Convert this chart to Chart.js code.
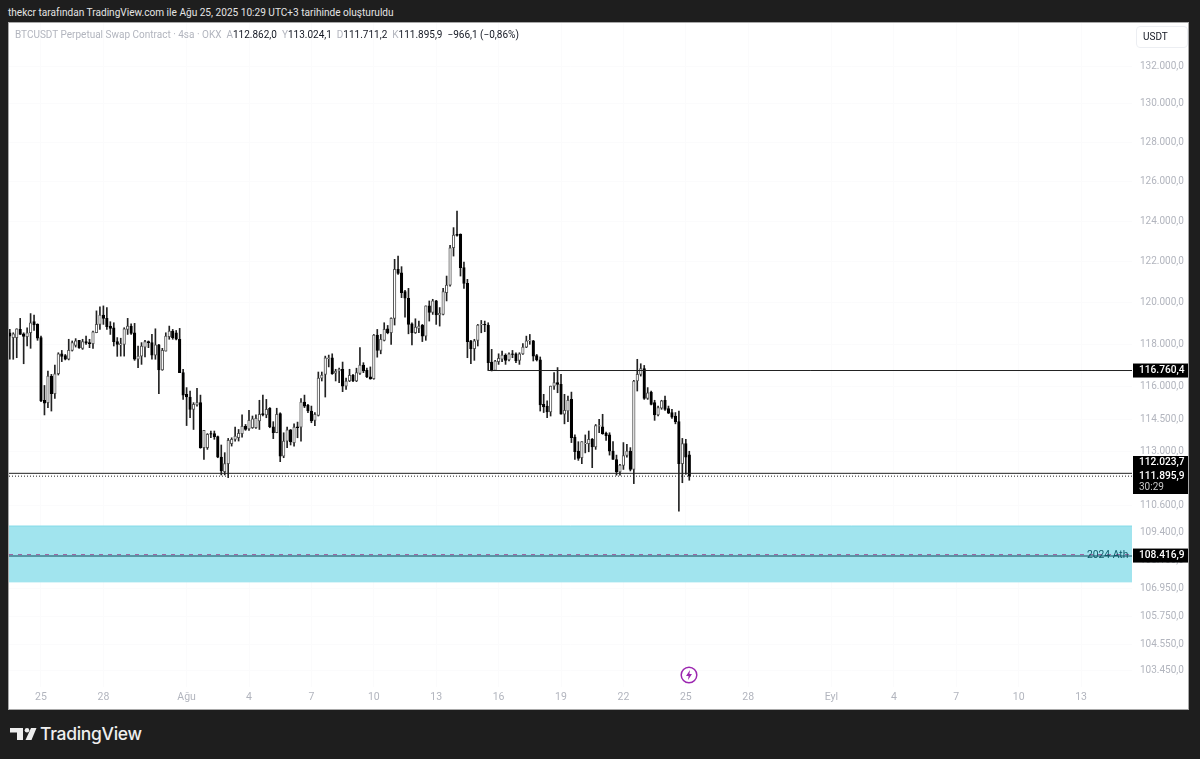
<!DOCTYPE html>
<html lang="tr">
<head>
<meta charset="utf-8">
<title>BTCUSDT</title>
<script src="https://cdn.jsdelivr.net/npm/chart.js@4/dist/chart.umd.js"></script>
<style>
  html, body { margin: 0; padding: 0; background: #1e1e1e; width: 1200px; height: 759px; overflow: hidden; }
  body { font-family: Roboto, sans-serif; position: relative; }
  .credit { position: absolute; left: 8px; top: 5px; color: #e4e4e4; font-size: 10.1px; line-height: 15px; white-space: nowrap; }
  #panel { position: absolute; left: 9px; top: 23px; width: 1179px; height: 686px; background: #fff; outline: 1px solid #a8a8a8; }
  #chart { position: absolute; left: 0; top: 0; }
  .legend { position: absolute; left: 6px; top: 4px; font-size: 10px; line-height: 15px; color: #131722; white-space: nowrap; }
  .legend span { color: #b2b5be; }
  .unit { position: absolute; left: 1127px; top: 3px; height: 20px; border: 1px solid #eceef2; border-radius: 4px; font-size: 10px; line-height: 20px; color: #131722; padding-left: 6px; width: 44px; }
  .bolt { position: absolute; left: 671px; top: 643px; }
  .logo { position: absolute; left: 9px; top: 723px; }
  .brand { position: absolute; left: 40px; top: 721px; color: #eee; font: 500 17.5px/26px Inter, sans-serif; letter-spacing: -0.3px; }
</style>
</head>
<body>
<div class="credit">thekcr tarafından TradingView.com ile Ağu 25, 2025 10:29 UTC+3 tarihinde oluşturuldu</div>
<div id="panel">
  <canvas id="chart" width="1179" height="686"></canvas>
  <div class="legend"><span>BTCUSDT Perpetual Swap Contract · 4sa · OKX</span>&nbsp; <span>A</span>112.862,0&nbsp; <span>Y</span>113.024,1&nbsp; <span>D</span>111.711,2&nbsp; <span>K</span>111.895,9&nbsp; −966,1 (−0,86%)</div>
  <div class="unit">USDT</div>
  <svg class="bolt" width="18" height="18" viewBox="0 0 18 18"><circle cx="9" cy="9" r="7.8" fill="#fff" stroke="#9c27b0" stroke-width="1.5"/><path d="M10 4 6 10h2.6L8 14l4-6H9.4z" fill="#9c27b0"/></svg>
</div>
<svg class="logo" width="28" height="20" viewBox="0 0 28 20"><path d="M1 5h13v12H8V9.5H1z" fill="#eee"/><circle cx="18" cy="7.2" r="2.3" fill="#eee"/><path d="M22 5h5.5l-5 12H16.500z" fill="#eee"/></svg>
<div class="brand">TradingView</div>

<script>
// 4h candles, oldest first
const opens = [118550,118320,118320,118710,118500,118360,118550,119080,118950,118320,
  115370,115260,116500,115680,116610,117550,117460,117290,117710,117950,
  118190,117810,118130,118080,118030,118550,118950,119400,119240,118870,
  118790,118130,117970,118000,118710,118870,118550,117290,117440,117870,
  118130,118080,117490,117970,116790,117680,118360,118630,118550,118240,
  116660,115645,115520,114950,115150,115260,113190,113190,113830,113830,
  113690,112760,112100,112460,113370,113570,113640,113830,114170,114050,
  114100,114100,114410,114750,114690,115000,114140,113870,114750,112800,
  113490,114000,113420,114140,114130,115290,115130,114870,114440,114670,
  116400,116580,117320,117365,116640,116740,116820,116030,116270,116530,
  116270,116630,117020,116770,116460,116380,118440,117710,118190,118740,
  118550,119240,121620,121450,120530,120210,118980,118550,118760,118920,
  118390,119840,119520,120080,119400,119430,120480,120850,122680,123340,
  123340,121700,120930,118160,117790,118190,118920,118950,118920,117160,
  116770,117180,117290,117490,117260,117550,117550,117240,117550,117870,
  118160,118160,117470,117260,115180,115100,114830,116030,116190,116110,
  114720,114870,115410,113670,113030,112730,113370,113370,113570,113220,
  114170,114140,113840,113770,113030,112650,112090,112380,112830,113030,
  112200,116270,116580,116850,115460,115750,115260,114690,115000,115370,
  114980,114800,114640,114380,112460,113370,112862];
const highs = [118710,118550,118740,119240,118550,118790,119470,119400,118980,118390,
  116060,116740,116580,117020,117600,117710,117520,118240,118160,118270,
  118190,118240,118390,118240,118630,119600,119790,119840,119760,119080,
  119030,118320,118290,118790,119240,118980,119000,117920,118080,118190,
  118160,118470,118740,118000,117810,118550,118870,118710,118660,118760,
  116820,115960,115800,115260,115930,115610,113980,113830,113950,113950,
  113720,113310,112960,113610,113640,114130,114020,114690,114250,114900,
  114640,114690,115370,115610,115410,115030,114380,115000,114790,113870,
  114130,114020,114280,114360,115450,115610,115180,115100,114800,116690,
  116690,117440,117490,117550,116820,116870,117160,116400,116820,116580,
  116870,117840,117130,116870,116930,118470,118710,118470,119030,118900,
  119270,122110,122270,121750,120590,120690,119030,119220,119110,118950,
  119840,120080,120160,120110,119760,120690,121290,122800,123680,124510,
  123370,121980,121130,118190,118240,118950,119140,119110,119030,117760,
  117240,117550,117680,117550,117600,117710,117600,117600,118030,118390,
  118470,118190,117520,117400,115645,115340,116030,116660,116900,116580,
  115645,115570,115750,113770,113460,113460,113770,113950,113610,114250,
  114490,114720,113900,113870,113460,112850,112430,113420,113340,113190,
  116300,117290,117080,117000,115960,115800,115370,115100,115370,115570,
  115100,114950,114800,114870,113610,113570,113024];
const lows = [117290,117290,117365,118470,117080,117920,117810,118660,118190,115300,
  114690,115030,114870,115460,116550,117180,117260,117260,117680,117870,
  117810,117760,118000,117840,117810,118550,118710,118950,118710,118470,
  117920,117430,117440,117440,118470,118470,117240,116900,117050,117400,
  117840,117290,117290,115680,116770,117680,118240,118240,118210,116660,
  115410,114200,114560,114020,115100,113160,112650,113110,113640,113570,
  112730,111950,111950,111830,113260,113490,113490,113670,113980,113980,
  114070,114070,114020,114640,114560,114100,113600,113870,112550,112730,
  113190,113310,113260,113640,113490,115030,114800,114330,114200,114640,
  116270,115520,116930,116580,116270,116190,115770,115880,116240,116240,
  116240,116580,116660,116430,116350,116350,117390,117550,118160,118500,
  118000,118920,121370,120240,119300,118500,117970,118520,118550,118130,
  118190,119110,119430,118950,118870,119400,120080,120800,122270,123260,
  121290,120690,117365,117080,117240,117920,118550,118600,116760,116740,
  116760,117050,117180,117050,117210,117365,117130,117050,117520,117840,
  118000,117210,117210,114870,114800,114560,114640,115880,115720,114720,
  114280,114380,113420,112650,112610,112460,112950,113000,112280,113110,
  113870,113800,113520,112850,112650,111940,111940,112200,112760,112130,
  111560,115800,116500,115410,115410,115150,114440,114640,114950,114900,
  114750,114530,114280,110330,111600,111980,111711];
const closes = [118390,118500,118740,118470,118380,118550,119030,118920,118290,115340,
  115230,116500,115680,116610,117550,117430,117290,117710,118080,118160,
  117840,118130,118060,118030,118600,118950,119400,119240,118840,118760,
  118130,118000,118030,118740,118870,118520,117290,117440,117920,118130,
  118080,117490,117970,116790,117710,118390,118630,118320,118240,116660,
  115610,115520,114950,115180,115260,113190,113980,113800,113800,113690,
  112760,112130,112460,113520,113570,113720,113840,114170,114020,114440,
  114510,114530,114720,114690,114950,114140,113870,114720,112800,113490,
  114000,113450,114130,114100,115290,115100,114870,114410,114720,116400,
  116550,117365,117365,116610,116740,116820,116030,116270,116530,116270,
  116660,117020,116740,116460,116370,118440,117710,118240,118710,118550,
  119240,121620,121420,120480,120210,118950,118550,118820,118870,118390,
  119840,119520,120080,119400,119480,120530,120850,122680,123310,123290,
  121700,120930,118130,117790,118160,118920,118950,118920,117130,116770,
  117210,117330,117490,117240,117550,117520,117210,117550,117870,118160,
  118190,117440,117260,115150,115060,114830,116030,116190,116110,114720,
  114900,115370,113640,113000,112700,113460,113400,113570,113220,114200,
  114200,113830,113740,113030,112650,112090,112400,112830,113030,112200,
  116270,116580,116850,115460,115720,115180,114690,115030,115340,114950,
  114770,114590,114380,112460,113370,112760,111895.9];

// x axis is counted in days from 25 Jul
const tickDays = [0, 3, 7, 10, 13, 16, 19, 22, 25, 28, 31, 34, 38, 41, 44, 47, 50];
const tickLabels = ['25', '28', 'Ağu', '4', '7', '10', '13', '16', '19', '22', '25', '28', 'Eyl', '4', '7', '10', '13'];
const priceTicks = [132000, 130000, 128000, 126000, 124000, 122000, 120000, 118000, 116000, 114500, 113000, 110600, 109400, 108150, 106950, 105750, 104550, 103450];

const firstCandleDay = -1.5;
const candlesPerDay = 6;
const xMin = -1.538, xMax = 52.45;
const yMin = 102784, yMax = 134307;

const resistance = 116760.4;
const resistanceStartDay = 21.5;
const support = 112023.7;
const lastPrice = 111895.9;
const ath2024 = 108416.9;
const athBase = 108350;
const zoneTop = 109670, zoneBottom = 107230;

const fmtPrice = v => v.toLocaleString('tr-TR', { minimumFractionDigits: 1, maximumFractionDigits: 1 });
const candleDays = opens.map((_, i) => firstCandleDay + i / candlesPerDay);
const isDown = closes.map((c, i) => c < opens[i]);
const hline = (y, from = xMin, to = xMax) => [{ x: from, y }, { x: to, y }];

const lineBase = { type: 'line', pointRadius: 0, borderWidth: 1, fill: false, tension: 0 };

// chart area has to fill the panel, no room kept for half tick labels
const noLabelMargin = s => { s.paddingTop = s.paddingBottom = s.paddingLeft = s.paddingRight = 0; };

// ── PRICE TAGS on the right axis ──
const priceTags = {
  id: 'priceTags',
  afterDatasetsDraw(chart) {
    const { ctx, scales: { y } } = chart;
    ctx.save();
    ctx.textBaseline = 'middle';

    // name of the ATH level, sits over its line
    const athY = y.getPixelForValue(ath2024);
    ctx.font = '10.3px Roboto';
    ctx.fillStyle = '#0e5a68';
    ctx.textAlign = 'left';
    ctx.fillText('2024 Ath', 1078, athY + 1);

    const tag = (top, h) => { ctx.fillStyle = '#000'; ctx.fillRect(1124, top, 55, h); };
    ctx.font = '500 10.2px Roboto';

    const r = y.getPixelForValue(resistance);
    tag(r - 7, 14);
    ctx.fillStyle = '#fff';
    ctx.fillText(fmtPrice(resistance), 1130, r);

    tag(433, 38);
    ctx.fillStyle = '#fff';
    ctx.fillText(fmtPrice(support), 1130, 439);
    ctx.fillText(fmtPrice(lastPrice), 1130, 453);
    ctx.font = '10px Roboto';
    ctx.fillStyle = '#c8c8c8';
    ctx.fillText('30:29', 1130, 464);

    ctx.font = '500 10.2px Roboto';
    tag(athY - 6, 14);
    ctx.fillStyle = '#fff';
    ctx.fillText(fmtPrice(ath2024), 1130, athY + 1);
    ctx.restore();
  }
};

new Chart(document.getElementById('chart'), {
  type: 'bar',
  data: {
    datasets: [
      { ...lineBase, order: 10, data: hline(zoneTop), borderColor: '#84dbe8', backgroundColor: '#a1e4ee', fill: '+1' },
      { ...lineBase, order: 11, data: hline(zoneBottom), borderColor: '#a1e4ee' },
      { order: 3, data: candleDays.map((x, i) => ({ x, y: [lows[i], highs[i]] })), backgroundColor: '#222', barThickness: 1, grouped: false },
      { order: 2, data: candleDays.map((x, i) => ({ x, y: [opens[i], closes[i]] })),
        backgroundColor: isDown.map(d => d ? '#000' : '#fff'),
        borderColor: isDown.map(d => d ? '#000' : '#555'),
        borderWidth: 1, borderSkipped: false, barThickness: 2.6, grouped: false },
      { ...lineBase, order: 1, data: hline(resistance, resistanceStartDay), borderColor: '#222' },
      { ...lineBase, order: 1, data: hline(support), borderColor: '#222' },
      { ...lineBase, order: 1, data: hline(lastPrice), borderColor: '#222', borderDash: [1, 2] },
      { ...lineBase, order: 1, data: hline(athBase), borderColor: '#3f7d8b', borderWidth: 1.5 },
      { ...lineBase, order: 0, data: hline(ath2024), borderColor: '#a0609f', borderDash: [4, 5] }
    ]
  },
  options: {
    responsive: false,
    animation: false,
    layout: { padding: 0 },
    plugins: { legend: { display: false }, tooltip: { enabled: false } },
    scales: {
      x: {
        type: 'linear', min: xMin, max: xMax, offset: false,
        grid: { offset: false, color: '#fbfbfc', drawTicks: false },
        border: { display: false },
        afterBuildTicks: s => { s.ticks = tickDays.map(value => ({ value })); },
        afterFit: s => { s.height = 22; noLabelMargin(s); },
        ticks: {
          autoSkip: false, maxRotation: 0, padding: 4, color: '#b2b5be',
          font: { family: 'Roboto', size: 10.5 },
          callback: v => tickLabels[tickDays.indexOf(v)]
        }
      },
      y: {
        type: 'logarithmic', position: 'right', min: yMin, max: yMax, beginAtZero: false,
        grid: { color: '#fbfbfc', drawTicks: false },
        border: { display: false },
        afterBuildTicks: s => { s.ticks = priceTicks.map(value => ({ value })); },
        afterFit: s => { s.width = 56; noLabelMargin(s); },
        ticks: {
          autoSkip: false, padding: 8, color: '#b2b5be',
          font: { family: 'Roboto', size: 10 },
          callback: v => fmtPrice(v)
        }
      }
    }
  },
  plugins: [priceTags]
});
</script>
</body>
</html>
